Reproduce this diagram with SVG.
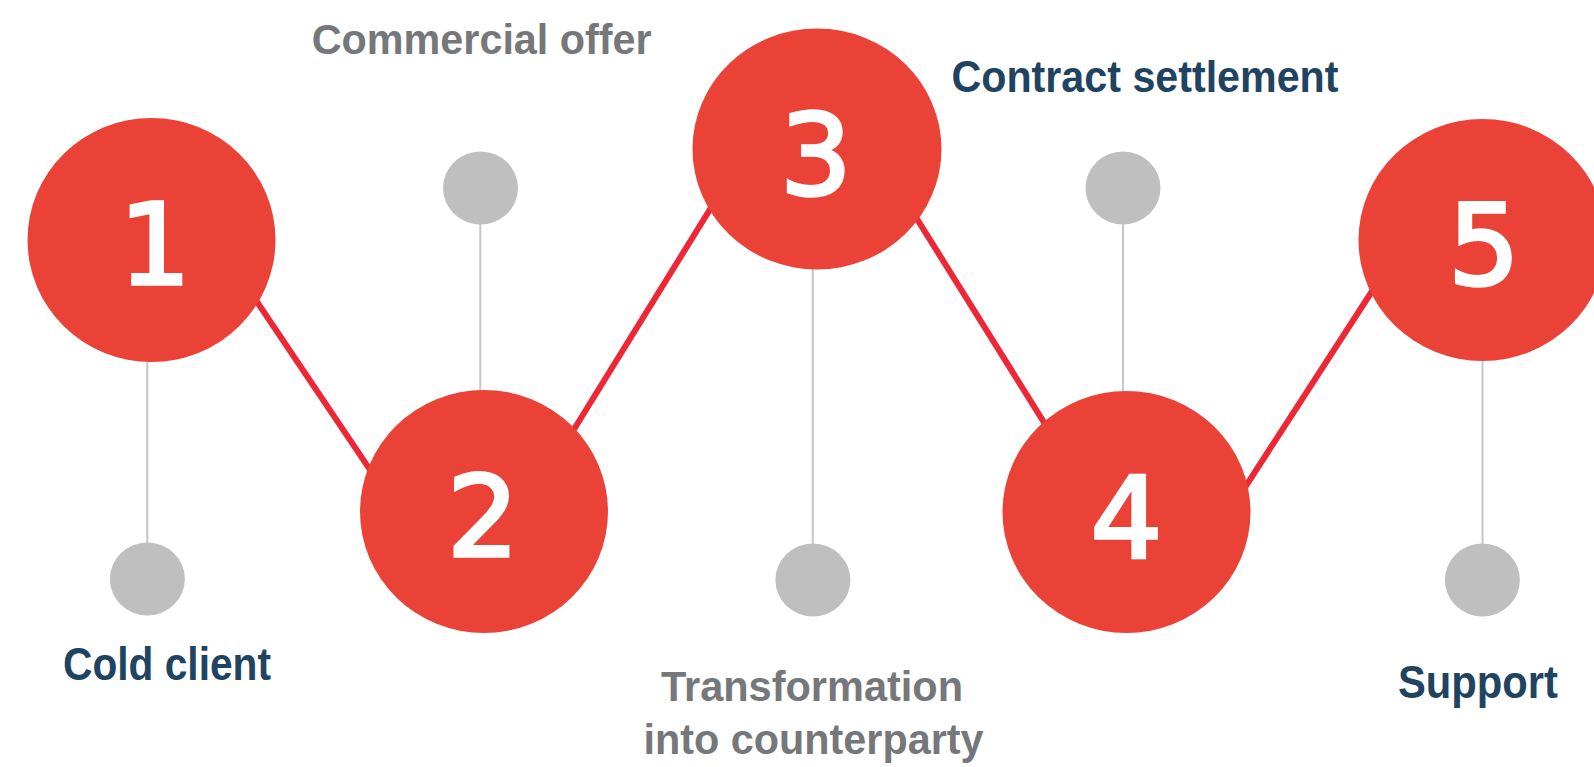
<svg xmlns="http://www.w3.org/2000/svg" width="1594" height="767" viewBox="0 0 1594 767">
<style>
.red{stroke:#ee2737;stroke-width:6;fill:none}
.stem{stroke:#c6c6c6;stroke-width:2;fill:none}
.dot{fill:#bfbfbf}
.big{fill:#eb4238}
.num{font-family:"DejaVu Sans",sans-serif;font-weight:normal;font-size:113px;fill:#ffffff;stroke:#ffffff;stroke-width:3.5;stroke-linejoin:miter;text-anchor:middle}
.lbl{font-family:"Liberation Sans",Arial,sans-serif;font-weight:bold}
.navy{fill:#1f4462}
.grey{fill:#75777a}
</style>
<rect width="1594" height="767" fill="#ffffff"/>
<g id="connectors">
<line class="red" x1="245.8" y1="285.1" x2="380.2" y2="484.9"/>
<line class="red" x1="564.9" y1="444" x2="721.1" y2="191.4"/>
<line class="red" x1="904.3" y1="198.6" x2="1054.9" y2="439.9"/>
<line class="red" x1="1236.9" y1="499.8" x2="1382.2" y2="275.5"/>
<line class="stem" x1="147.3" y1="240" x2="147.3" y2="579"/>
<line class="stem" x1="480.3" y1="188" x2="480.3" y2="511"/>
<line class="stem" x1="812.7" y1="149" x2="812.7" y2="580"/>
<line class="stem" x1="1123" y1="188" x2="1123" y2="511"/>
<line class="stem" x1="1482.5" y1="240" x2="1482.5" y2="580"/>
</g>
<g id="dot1"><ellipse class="dot" cx="147.4" cy="579" rx="37.5" ry="36.5"/></g>
<g id="dot2"><ellipse class="dot" cx="480.5" cy="188" rx="37.5" ry="36.5"/></g>
<g id="dot3"><ellipse class="dot" cx="812.9" cy="580" rx="37.5" ry="36.5"/></g>
<g id="dot4"><ellipse class="dot" cx="1123" cy="188" rx="37.5" ry="36.5"/></g>
<g id="dot5"><ellipse class="dot" cx="1482.4" cy="580" rx="37.5" ry="36.5"/></g>
<g id="step1"><ellipse class="big" cx="151.5" cy="240" rx="124" ry="122"/><text class="num" x="155" y="284">1</text></g>
<g id="step2"><ellipse class="big" cx="484" cy="511.5" rx="124" ry="121.5"/><text class="num" x="483" y="556">2</text></g>
<g id="step3"><ellipse class="big" cx="817" cy="149" rx="124.5" ry="120.5"/><text class="num" x="816" y="194">3</text></g>
<g id="step4"><ellipse class="big" cx="1126.5" cy="512" rx="124" ry="121"/><text class="num" x="1126.5" y="557">4</text></g>
<g id="step5"><ellipse class="big" cx="1482.5" cy="240" rx="124" ry="121"/><text class="num" x="1484" y="284">5</text></g>
<g id="label-commercial"><text class="lbl grey" x="311.7" y="54" font-size="42" textLength="340" lengthAdjust="spacingAndGlyphs">Commercial offer</text></g>
<g id="label-contract"><text class="lbl navy" x="951.5" y="92" font-size="45" textLength="387" lengthAdjust="spacingAndGlyphs">Contract settlement</text></g>
<g id="label-cold"><text class="lbl navy" x="63" y="680" font-size="46" textLength="208" lengthAdjust="spacingAndGlyphs">Cold client</text></g>
<g id="label-transformation"><text class="lbl grey" x="661" y="701" font-size="42" textLength="302" lengthAdjust="spacingAndGlyphs">Transformation</text><text class="lbl grey" x="643.5" y="754" font-size="42" textLength="340" lengthAdjust="spacingAndGlyphs">into counterparty</text></g>
<g id="label-support"><text class="lbl navy" x="1398" y="698" font-size="46" textLength="160" lengthAdjust="spacingAndGlyphs">Support</text></g>
</svg>
